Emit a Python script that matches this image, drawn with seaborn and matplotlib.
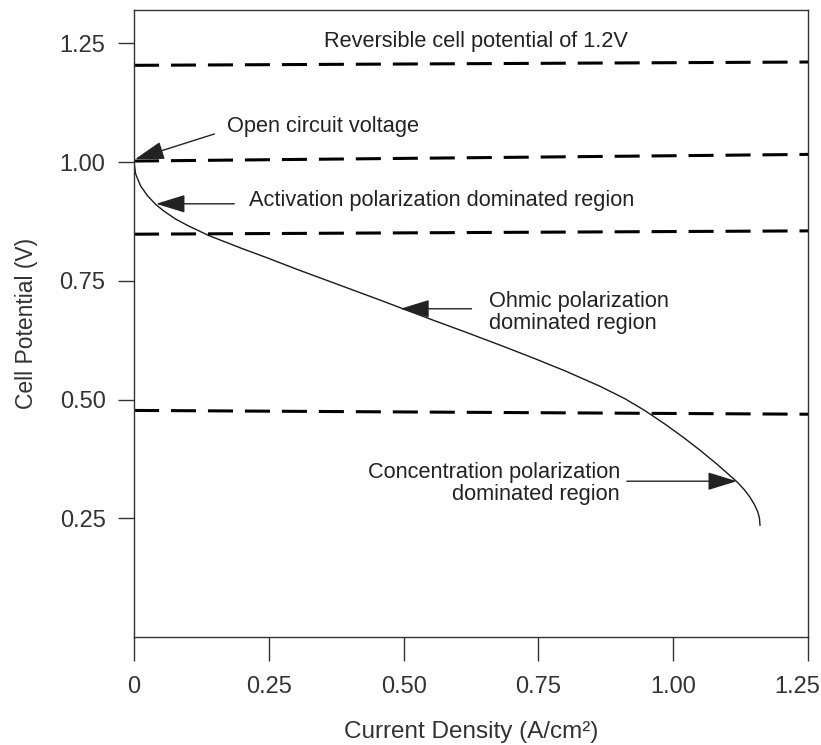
import matplotlib
matplotlib.use("Agg")
import matplotlib.pyplot as plt
from matplotlib.transforms import ScaledTranslation
import seaborn as sns
import pandas as pd

# polarization curve
current_density = [0.0, 0.0, 0.003, 0.012, 0.025, 0.04, 0.055, 0.077, 0.1, 0.139, 0.2, 0.25,
                   0.3, 0.35, 0.4, 0.45, 0.492, 0.55, 0.617, 0.68, 0.739, 0.8, 0.864, 0.91,
                   0.947, 0.985, 1.018, 1.05, 1.081, 1.1, 1.118, 1.132, 1.142, 1.151, 1.157,
                   1.16, 1.161]
cell_potential = [1.111, 1.0, 0.975, 0.95, 0.929, 0.911, 0.897, 0.88, 0.866, 0.845, 0.818, 0.797,
                  0.775, 0.754, 0.733, 0.712, 0.694, 0.669, 0.641, 0.614, 0.588, 0.56, 0.528,
                  0.502, 0.477, 0.448, 0.421, 0.393, 0.364, 0.345, 0.327, 0.31, 0.295, 0.278,
                  0.263, 0.25, 0.235]

# dashed region boundaries (left and right end values, slightly tilted in the original)
boundary_x = [0.0, 1.25]
boundary_levels = {
    "reversible": [1.2035, 1.2105],
    "ocv": [1.002, 1.016],
    "activation": [0.848, 0.855],
    "ohmic": [0.477, 0.469],
}

x_ticks = [0, 0.25, 0.5, 0.75, 1.0, 1.25]
x_tick_labels = ["0", "0.25", "0.50", "0.75", "1.00", "1.25"]
y_ticks = [0.25, 0.5, 0.75, 1.0, 1.25]
y_tick_labels = ["0.25", "0.50", "0.75", "1.00", "1.25"]

sns.set_theme(style="white")
plt.rcParams["font.family"] = ["Liberation Sans", "DejaVu Sans"]

fig = plt.figure(figsize=(8.21, 7.45), dpi=100)
ax = fig.add_axes([134 / 821, 1 - 637 / 745, 674 / 821, 627 / 745])

curve = pd.DataFrame({"j": current_density, "v": cell_potential})
sns.lineplot(data=curve, x="j", y="v", sort=False, estimator=None,
             color="#1a1a1a", lw=1.0, ax=ax)

for name, ends in boundary_levels.items():
    sns.lineplot(x=boundary_x, y=ends, estimator=None, color="black", lw=2.2,
                 dashes=False, ax=ax).lines[-1].set_dashes((8.2, 3.9))

ax.set_xlim(0, 1.25)
ax.set_ylim(0, 1.32)
ax.set_xticks(x_ticks)
ax.set_xticklabels(x_tick_labels)
ax.set_yticks(y_ticks)
ax.set_yticklabels(y_tick_labels)

for s in ax.spines.values():
    s.set_color("#333333")
    s.set_linewidth(1.0)

ax.tick_params(axis="x", direction="out", length=17, width=1.0, color="#333333",
               labelsize=17, labelcolor="#333333", pad=11, bottom=True)
ax.tick_params(axis="y", direction="out", length=11.5, width=1.0, color="#333333",
               labelsize=17, labelcolor="#333333", pad=9, left=True)

# last x tick label sits a little left of its tick so it stays inside the figure
last = ax.get_xticklabels()[-1]
last.set_ha("right")
last.set_transform(last.get_transform() + ScaledTranslation(12 / 100, 0, fig.dpi_scale_trans))

ax.set_xlabel("Current Density (A/cm²)", fontsize=17.5, color="#333333")
ax.set_ylabel("Cell Potential (V)", fontsize=16.5, color="#333333")
ax.xaxis.set_label_coords(0.5, -0.134)
ax.yaxis.set_label_coords(-0.142, 0.5)

txt = dict(fontsize=15.7, color="#222222")
arrow = dict(arrowstyle="-|>,head_length=0.65,head_width=0.2", color="#222222", lw=1.0,
             mutation_scale=28, shrinkA=0, shrinkB=0)

ax.text(0.635, 1.254, "Reversible cell potential of 1.2V", ha="center", va="center", **txt)

ax.text(0.173, 1.074, "Open circuit voltage", ha="left", va="center", **txt)
ax.annotate("", xy=(0.002, 1.006), xytext=(0.149, 1.059), arrowprops=arrow)

ax.text(0.214, 0.918, "Activation polarization dominated region", ha="left", va="center", **txt)
ax.annotate("", xy=(0.041, 0.912), xytext=(0.186, 0.912), arrowprops=arrow)

ax.text(0.659, 0.683, "Ohmic polarization\ndominated region", ha="left", va="center",
        linespacing=1.1, **txt)
ax.annotate("", xy=(0.494, 0.691), xytext=(0.626, 0.691), arrowprops=arrow)

ax.text(0.901, 0.324, "Concentration polarization\ndominated region", ha="right", va="center",
        multialignment="right", linespacing=1.05, **txt)
ax.annotate("", xy=(1.118, 0.328), xytext=(0.914, 0.328), arrowprops=arrow)

fig.savefig("out.png", dpi=100)
